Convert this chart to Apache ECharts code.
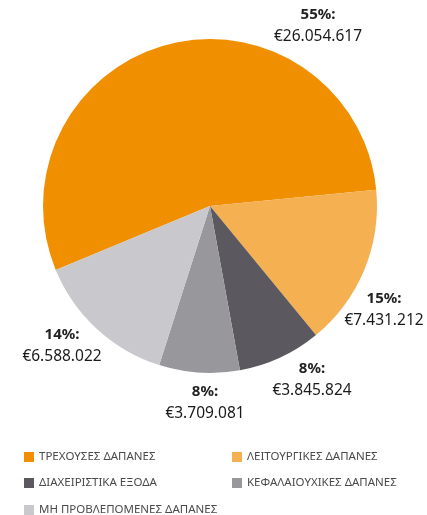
<!DOCTYPE html>
<html>
<head>
<meta charset="utf-8">
<script src="https://cdn.jsdelivr.net/npm/echarts@6/dist/echarts.min.js"></script>
<style>
  html, body { margin: 0; padding: 0; background: #fff; }
  #main { width: 427px; height: 515px; }
</style>
</head>
<body>
<div id="main"></div>
<script>
"use strict";
// categories, values and the printed percentages
var categories = ['ΤΡΕΧΟΥΣΕΣ ΔΑΠΑΝΕΣ', 'ΛΕΙΤΟΥΡΓΙΚΕΣ ΔΑΠΑΝΕΣ', 'ΔΙΑΧΕΙΡΙΣΤΙΚΑ ΕΞΟΔΑ',
                  'ΚΕΦΑΛΑΙΟΥΧΙΚΕΣ ΔΑΠΑΝΕΣ', 'ΜΗ ΠΡΟΒΛΕΠΟΜΕΝΕΣ ΔΑΠΑΝΕΣ'];
var values = [26054617, 7431212, 3845824, 3709081, 6588022];
var percentLabels = ['55%', '15%', '8%', '8%', '14%'];
var colors = ['#F08F00', '#F5B052', '#5B595F', '#98979C', '#C8C8CD'];

// where each slice label sits (center of the two lines)
var labelPos = [[318, 26], [384, 310], [312, 380], [205, 403], [62, 346]];
// legend grid: two columns, three rows
var legendCols = [19, 227];
var legendRows = [446, 472, 499];

function euro(v) {
    return '€' + String(v).replace(/\B(?=(\d{3})+(?!\d))/g, '.');
}

var pieData = categories.map(function(c, i) {
    return { name: c, value: values[i], itemStyle: { color: colors[i] } };
});

var legends = categories.map(function(c, i) {
    return {
        left: legendCols[i % 2], top: legendRows[Math.floor(i / 2)],
        itemWidth: 10, itemHeight: 10, itemGap: 6, icon: 'rect',
        data: [c],
        selectedMode: false,
        textStyle: { fontFamily: 'Noto Sans', fontSize: 11.5, color: '#4a4a4a' }
    };
});

var myChart = echarts.init(document.getElementById('main'));
var option = {
    animation: false,
    legend: legends,
    series: [
        {
            type: 'pie',
            center: [210, 206],
            radius: [0, 167],
            startAngle: 202.5,
            clockwise: true,
            avoidLabelOverlap: false,
            data: pieData,
            labelLine: { show: false },
            label: {
                show: true,
                position: 'outside',
                overflow: 'none',
                formatter: function(p) {
                    return '{p|' + percentLabels[p.dataIndex] + ':}\n{v|' + euro(p.value) + '}';
                },
                rich: {
                    p: { fontFamily: 'Noto Sans', fontSize: 15, fontWeight: 'bold', color: '#222', lineHeight: 22, align: 'center' },
                    v: { fontFamily: 'Noto Sans', fontSize: 15.5, color: '#1a1a1a', lineHeight: 22, align: 'center' }
                }
            },
            labelLayout: function(params) {
                var pos = labelPos[params.dataIndex];
                return { x: pos[0], y: pos[1], align: 'center', verticalAlign: 'middle', hideOverlap: false };
            }
        }
    ]
};
myChart.setOption(option);
</script>
</body>
</html>
